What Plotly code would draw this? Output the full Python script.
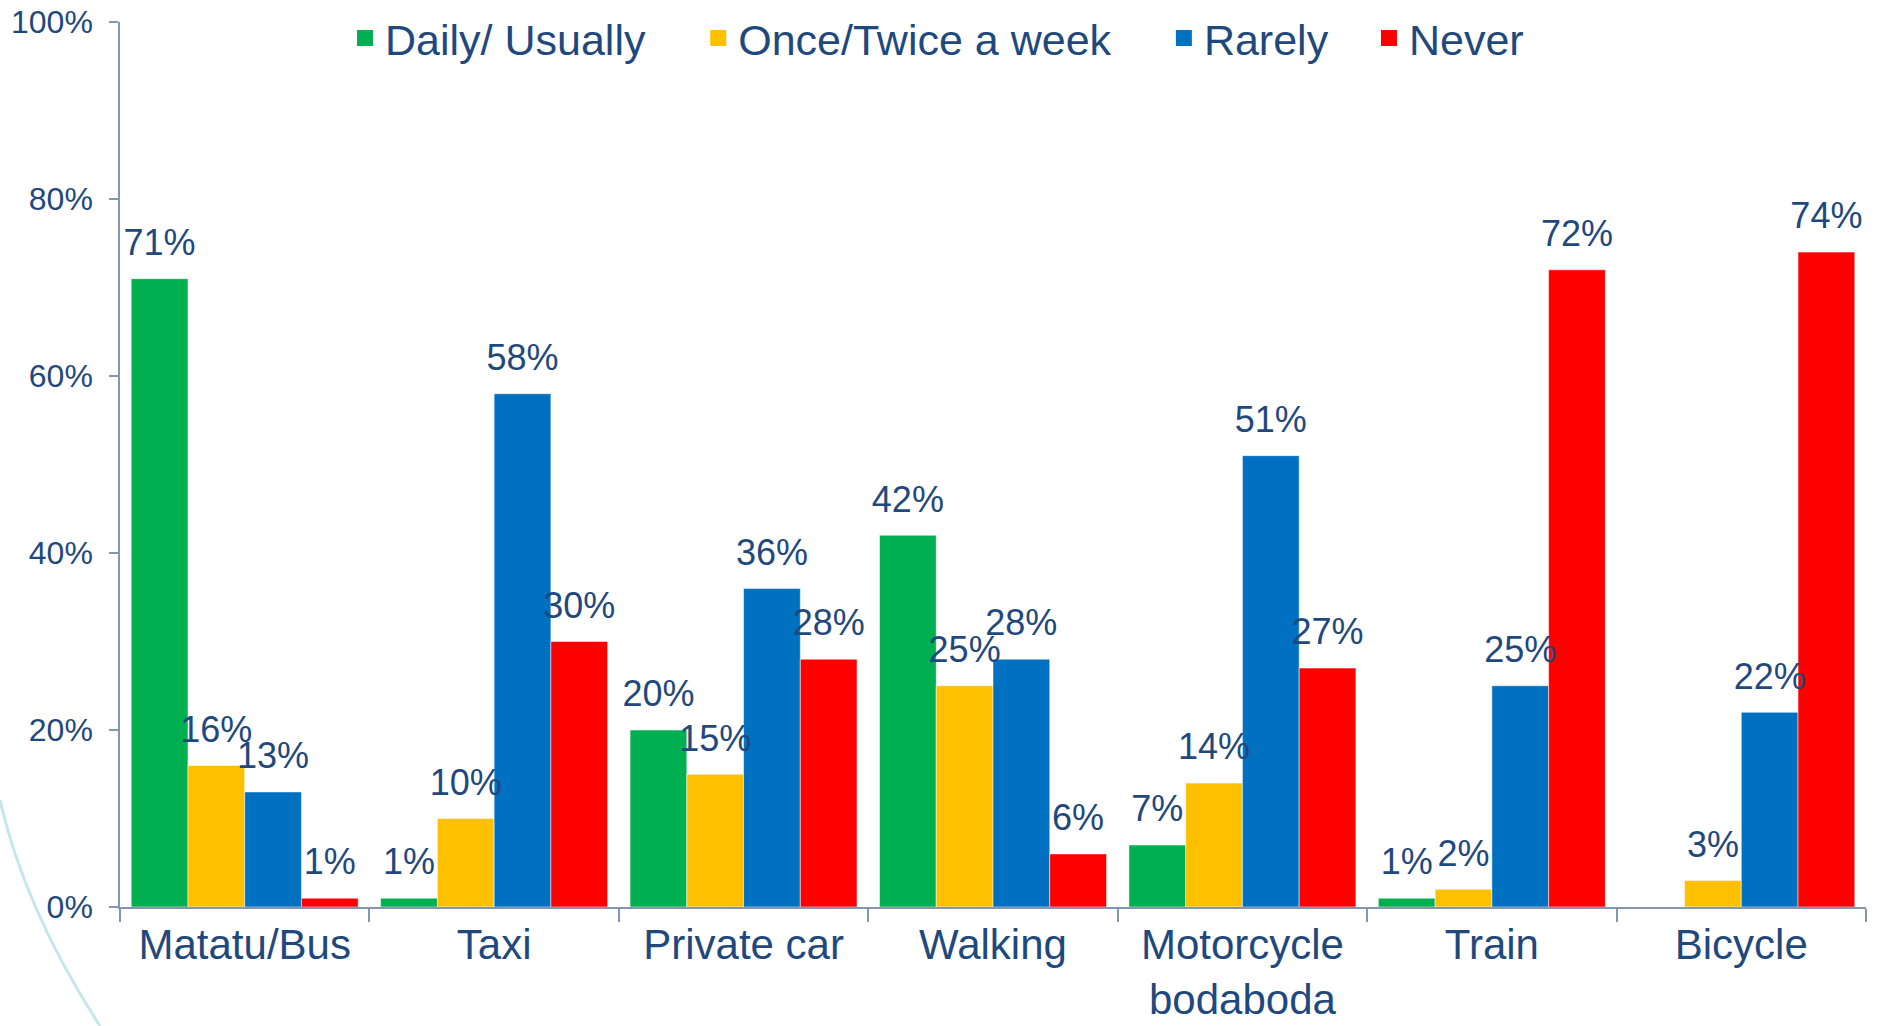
"""Grouped bar chart: how often each transport mode is used."""

import plotly.graph_objects as go

CATEGORIES = [
    "Matatu/Bus",
    "Taxi",
    "Private car",
    "Walking",
    "Motorcycle<br>bodaboda",
    "Train",
    "Bicycle",
]
SERIES_NAMES = ["Daily/ Usually", "Once/Twice a week", "Rarely", "Never"]
DAILY = [0.71, 0.01, 0.20, 0.42, 0.07, 0.01, None]
WEEKLY = [0.16, 0.10, 0.15, 0.25, 0.14, 0.02, 0.03]
RARELY = [0.13, 0.58, 0.36, 0.28, 0.51, 0.25, 0.22]
NEVER = [0.01, 0.30, 0.28, 0.06, 0.27, 0.72, 0.74]

COLORS = ["#00B050", "#FFC000", "#0070C0", "#FF0000"]
TEXT_COLOR = "#1F497D"
AXIS_COLOR = "#8596B0"
FONT = "Liberation Sans, Arial, sans-serif"

# extra non-breaking spaces after each legend entry, to widen the gaps
LEGEND_PAD = [4, 4, 3, 0]

BARGAP = 0.09

W, H = 1879, 1026
# top margin is zero so the legend sits inside the plot box and never pushes
# the margins; the y domain leaves the gap above the 100% line instead.
MARGIN = {"l": 120, "r": 13, "t": 0, "b": 119}
AXIS_TOP_PX = 22
PLOT_W = W - MARGIN["l"] - MARGIN["r"]
PLOT_H = H - MARGIN["t"] - MARGIN["b"]


def px_to_paper(x, y):
    return (x - MARGIN["l"]) / PLOT_W, (H - MARGIN["b"] - y) / PLOT_H


fig = go.Figure()
series = [DAILY, WEEKLY, RARELY, NEVER]
for i, (name, values, color) in enumerate(zip(SERIES_NAMES, series, COLORS)):
    fig.add_trace(
        go.Bar(
            x=CATEGORIES,
            y=values,
            name=name,
            offsetgroup=str(i),
            showlegend=False,
            marker={"color": color, "line": {"color": "rgba(255,255,255,0.5)", "width": 1}},
            hoverinfo="skip",
        )
    )

# value labels: grouped scatter text, so they sit a bit higher than bar text
for i, (name, values) in enumerate(zip(SERIES_NAMES, series)):
    fig.add_trace(
        go.Scatter(
            x=CATEGORIES,
            y=values,
            mode="markers+text",
            offsetgroup=str(i),
            marker={"size": 22, "opacity": 0},
            text=[None if v is None else f"{v:.0%}" for v in values],
            textposition="top center",
            textfont={"size": 36, "color": TEXT_COLOR, "family": FONT},
            showlegend=False,
            hoverinfo="skip",
            cliponaxis=False,
        )
    )

# legend-only entries so the swatches can be bigger than bar legend squares
for i, (name, color, pad) in enumerate(zip(SERIES_NAMES, COLORS, LEGEND_PAD)):
    fig.add_trace(
        go.Scatter(
            x=[None],
            y=[None],
            mode="markers",
            offsetgroup=str(i),
            name=name + "\u00a0" * pad,
            marker={"color": color, "symbol": "square", "size": 20},
            hoverinfo="skip",
        )
    )

# light decorative arc in the bottom-left corner (slide background)
p0 = px_to_paper(0, 800)
p1 = px_to_paper(25, 910)
p2 = px_to_paper(100, 1026)
fig.add_shape(
    type="path",
    xref="paper",
    yref="paper",
    path=f"M {p0[0]},{p0[1]} Q {p1[0]},{p1[1]} {p2[0]},{p2[1]}",
    line={"color": "#C6E6E8", "width": 3},
    layer="below",
)

legend_x, legend_y = px_to_paper(345, 38)

fig.update_layout(
    width=W,
    height=H,
    margin=MARGIN,
    barmode="group",
    bargap=BARGAP,
    bargroupgap=0,
    scattermode="group",
    scattergap=BARGAP,
    plot_bgcolor="white",
    paper_bgcolor="white",
    font={"family": FONT, "color": TEXT_COLOR},
    legend={
        "orientation": "h",
        "x": legend_x,
        "xanchor": "left",
        "y": legend_y,
        "yanchor": "middle",
        "font": {"size": 43, "color": TEXT_COLOR},
        "bgcolor": "rgba(0,0,0,0)",
    },
    xaxis={
        "showline": True,
        "linecolor": AXIS_COLOR,
        "linewidth": 2,
        "ticks": "outside",
        "tickson": "boundaries",
        "ticklen": 13,
        "tickcolor": AXIS_COLOR,
        "tickwidth": 1.5,
        "tickfont": {"size": 42, "color": TEXT_COLOR},
        "showgrid": False,
        "automargin": False,
    },
    yaxis={
        "domain": [0, 1 - AXIS_TOP_PX / PLOT_H],
        "range": [0, 1],
        "dtick": 0.2,
        "tickformat": ".0%",
        "showline": True,
        "linecolor": AXIS_COLOR,
        "linewidth": 1.5,
        "ticks": "outside",
        "ticklen": 9,
        "tickcolor": AXIS_COLOR,
        "tickwidth": 1.5,
        "ticklabelstandoff": 10,
        "tickfont": {"size": 32, "color": TEXT_COLOR},
        "showgrid": False,
        "zeroline": False,
        "automargin": False,
    },
)

fig.write_html(
    "out.html",
    config={"displayModeBar": False},
    post_script="document.body.style.margin = '0';",
)
